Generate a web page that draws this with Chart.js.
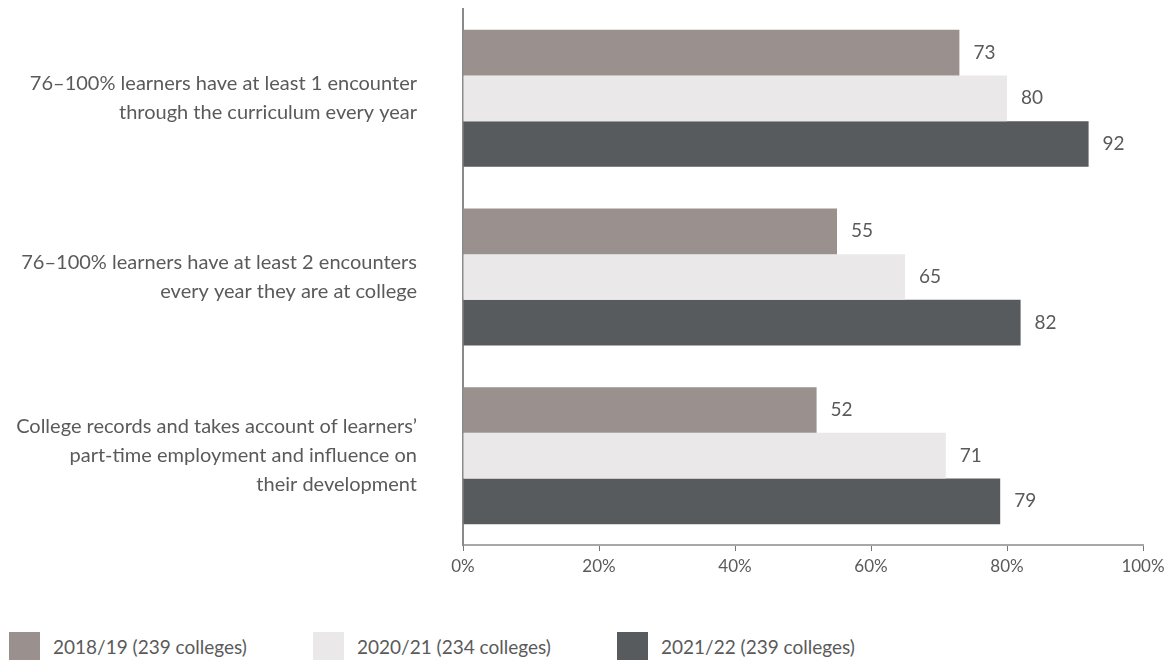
<!DOCTYPE html>
<html>
<head>
<meta charset="utf-8">
<script src="https://cdn.jsdelivr.net/npm/chart.js@4"></script>
<style>
  html, body { margin: 0; padding: 0; background: #fff; }
  #wrap { position: relative; width: 1171px; height: 662px; }
  #chartBox { position: absolute; left: 0; top: 0; width: 1171px; height: 590px; }
  #legend { position: absolute; left: 9px; top: 632px; display: flex; font-family: Lato, sans-serif; font-size: 19px; color: #5a5a5a; }
  #legend .item { display: flex; align-items: center; width: 304px; }
  #legend .box { width: 31px; height: 28px; margin-right: 13px; }
</style>
</head>
<body>
<div id="wrap">
  <div id="chartBox"><canvas id="chart"></canvas></div>
  <div id="legend"></div>
</div>
<script>
const categories = [
  ['76\u2013100% learners have at least 1 encounter', 'through the curriculum every year'],
  ['76\u2013100% learners have at least 2 encounters', 'every year they are at college'],
  ['College records and takes account of learners\u2019', 'part-time employment and influence on', 'their development']
]
const seriesNames = ['2018/19 (239 colleges)', '2020/21 (234 colleges)', '2021/22 (239 colleges)']
const values1819 = [73, 55, 52]
const values2021 = [80, 65, 71]
const values2122 = [92, 82, 79]
const colors = ['#9a918e', '#ebe8e9', '#575b5e']
const xTicks = [0, 20, 40, 60, 80, 100]

const textColor = '#5a5a5a'
const font = 'Lato, sans-serif'

// value labels at the end of each bar
const valueLabels = {
  id: 'valueLabels',
  afterDatasetsDraw(chart) {
    const ctx = chart.ctx
    ctx.save()
    ctx.font = `19px ${font}`
    ctx.fillStyle = textColor
    ctx.textAlign = 'left'
    ctx.textBaseline = 'middle'
    chart.data.datasets.forEach((ds, i) => {
      chart.getDatasetMeta(i).data.forEach((bar, j) => {
        ctx.fillText(String(ds.data[j]), bar.x + 14, bar.y)
      })
    })
    ctx.restore()
  }
}

const seriesValues = [values1819, values2021, values2122]
const datasets = seriesNames.map((name, i) => ({
  label: name,
  data: seriesValues[i],
  backgroundColor: colors[i],
  borderWidth: 0,
  barPercentage: 1,
  categoryPercentage: 0.767
}))

new Chart(document.getElementById('chart'), {
  type: 'bar',
  data: { labels: categories, datasets },
  plugins: [valueLabels],
  options: {
    indexAxis: 'y',
    responsive: true,
    maintainAspectRatio: false,
    animation: false,
    layout: { padding: { top: 9, right: 28, left: 0, bottom: 0 } },
    plugins: { legend: { display: false }, tooltip: { enabled: false } },
    scales: {
      x: {
        min: 0,
        max: 100,
        afterBuildTicks: scale => { scale.ticks = xTicks.map(v => ({ value: v })) },
        afterFit: scale => { scale.height = 45 },
        grid: { drawOnChartArea: false, drawTicks: true, tickLength: 6, color: '#777' },
        border: { display: true, color: '#a8a8a8', width: 2 },
        ticks: {
          padding: 5,
          color: textColor,
          font: { family: font, size: 17 },
          callback: v => v + '%'
        }
      },
      y: {
        afterFit: scale => {
          scale.width = 463
          scale.paddingTop = 0
          scale.paddingBottom = 0
        },
        grid: { display: false, drawTicks: false },
        border: { display: true, color: '#8a8a8a', width: 2 },
        ticks: {
          padding: 46,
          color: textColor,
          font: { family: font, size: 20, lineHeight: 1.45 }
        }
      }
    }
  }
})

// legend built from the same series arrays
const legend = document.getElementById('legend')
seriesNames.forEach((name, i) => {
  const item = document.createElement('div')
  item.className = 'item'
  const box = document.createElement('span')
  box.className = 'box'
  box.style.background = colors[i]
  const label = document.createElement('span')
  label.textContent = name
  item.appendChild(box)
  item.appendChild(label)
  legend.appendChild(item)
})
</script>
</body>
</html>
